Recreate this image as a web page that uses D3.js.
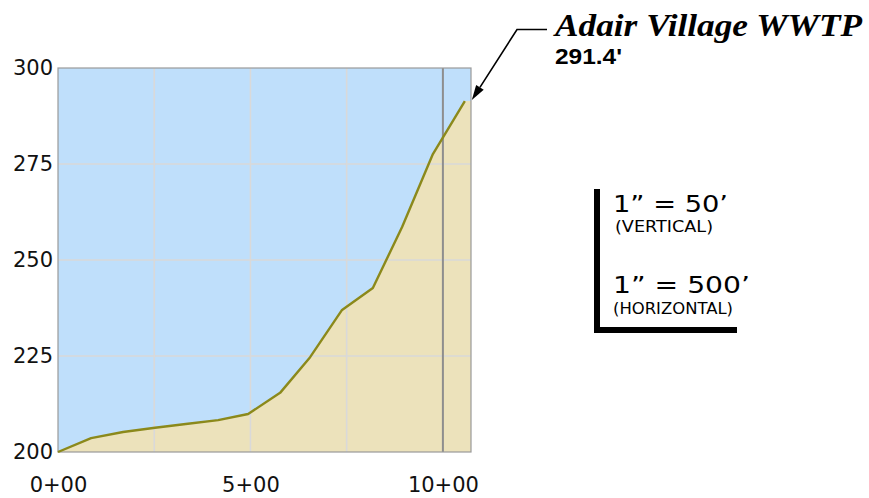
<!DOCTYPE html>
<html>
<head>
<meta charset="utf-8">
<script src="https://cdn.jsdelivr.net/npm/d3@7"></script>
<style>
  html, body { margin: 0; padding: 0; background: #ffffff; }
  svg { display: block; }
</style>
</head>
<body>
<svg id="chart" width="869" height="498"></svg>
<script>
// Ground profile along the pipeline alignment (station in feet, elevation in feet)
const stations   = [0, 86, 169, 252, 332, 416, 494, 577, 655, 738, 818, 894, 974, 1057];
const elevations = [200.0, 203.6, 205.2, 206.3, 207.3, 208.3, 209.9, 215.4, 224.7, 237.0, 242.7, 258.6, 277.6, 291.4];

const yTicks = [200, 225, 250, 275, 300];
const xGrid = [250, 500, 750];
const xMajor = [1000];
const xTickValues = [0, 500, 1000];
const xTickLabels = ["0+00", "5+00", "10+00"];

const siteName = "Adair Village WWTP";
const siteElevation = "291.4'";
const scaleLines = ["1\u201D = 50\u2019", "(VERTICAL)", "1\u201D = 500\u2019", "(HORIZONTAL)"];

const svg = d3.select("#chart");
const plot = { left: 58, top: 68, width: 413, height: 384 };

const x = d3.scaleLinear().domain([0, 1073]).range([plot.left, plot.left + plot.width]);
const y = d3.scaleLinear().domain([200, 300]).range([plot.top + plot.height, plot.top]);

const pts = stations.map((s, i) => ({ s, e: elevations[i] }));
const last = pts[pts.length - 1];

// sky background
svg.append("rect")
  .attr("x", plot.left).attr("y", plot.top)
  .attr("width", plot.width).attr("height", plot.height)
  .attr("fill", "#bfdffb");

// ground fill under the profile, carried to the right edge
const groundPts = pts.concat([{ s: x.domain()[1], e: last.e }]);
svg.append("path")
  .datum(groundPts)
  .attr("fill", "#ece2bb")
  .attr("d", d3.area().x(d => x(d.s)).y0(y(200)).y1(d => y(d.e)));

// grid
const grid = svg.append("g");
grid.selectAll("line.h").data(yTicks.filter(v => v > 200 && v < 300)).join("line")
  .attr("x1", plot.left).attr("x2", plot.left + plot.width)
  .attr("y1", d => y(d)).attr("y2", d => y(d))
  .attr("stroke", "#d9d9d9").attr("stroke-width", 1.6);
grid.selectAll("line.v").data(xGrid).join("line")
  .attr("x1", d => x(d)).attr("x2", d => x(d))
  .attr("y1", plot.top).attr("y2", plot.top + plot.height)
  .attr("stroke", "#d9d9d9").attr("stroke-width", 1.6);
grid.selectAll("line.m").data(xMajor).join("line")
  .attr("x1", d => x(d)).attr("x2", d => x(d))
  .attr("y1", plot.top).attr("y2", plot.top + plot.height)
  .attr("stroke", "#8e8e8e").attr("stroke-width", 2);

// frame
svg.append("rect")
  .attr("x", plot.left).attr("y", plot.top)
  .attr("width", plot.width).attr("height", plot.height)
  .attr("fill", "none").attr("stroke", "#9a9a9a").attr("stroke-width", 1.2);

// profile line
svg.append("path")
  .datum(pts)
  .attr("fill", "none")
  .attr("stroke", "#8b891b")
  .attr("stroke-width", 2.4)
  .attr("stroke-linejoin", "round")
  .attr("d", d3.line().x(d => x(d.s)).y(d => y(d.e)));

// y axis labels
const yAxis = d3.axisLeft(y).tickValues(yTicks).tickSize(0).tickPadding(5).tickFormat(d3.format("d"));
const ya = svg.append("g").attr("transform", `translate(${plot.left},0)`).call(yAxis);
ya.select(".domain").remove();
ya.selectAll("text")
  .attr("font-family", "DejaVu Sans, sans-serif")
  .attr("font-size", 21).attr("fill", "#111");

// x axis labels
const xAxis = d3.axisBottom(x).tickValues(xTickValues).tickSize(0).tickPadding(25)
  .tickFormat((d, i) => xTickLabels[i]);
const xa = svg.append("g").attr("transform", `translate(0,${plot.top + plot.height})`).call(xAxis);
xa.select(".domain").remove();
xa.selectAll("text")
  .attr("font-family", "DejaVu Sans, sans-serif")
  .attr("font-size", 21).attr("fill", "#111");

// callout for the plant elevation
const tipX = x(last.s) + 7, tipY = y(last.e) - 1;
const elbow = { x: 517, y: 29.5 };
const ang = Math.atan2(tipY - elbow.y, tipX - elbow.x);
const aLen = 15, aHalf = 4.5;
const baseX = tipX - aLen * Math.cos(ang), baseY = tipY - aLen * Math.sin(ang);
svg.append("path")
  .attr("d", `M547,${elbow.y}L${elbow.x},${elbow.y}L${baseX},${baseY}`)
  .attr("fill", "none").attr("stroke", "#000").attr("stroke-width", 1.6);
svg.append("path")
  .attr("d", `M${tipX},${tipY}L${baseX - aHalf * Math.sin(ang)},${baseY + aHalf * Math.cos(ang)}L${baseX + aHalf * Math.sin(ang)},${baseY - aHalf * Math.cos(ang)}Z`)
  .attr("fill", "#000");

svg.append("text")
  .attr("x", 555).attr("y", 36)
  .attr("font-family", "Liberation Serif, Times New Roman, serif")
  .attr("font-style", "italic").attr("font-weight", "bold")
  .attr("font-size", 31)
  .attr("textLength", 307).attr("lengthAdjust", "spacingAndGlyphs")
  .text(siteName);
svg.append("text")
  .attr("x", 555).attr("y", 64)
  .attr("font-family", "Liberation Sans, Arial, sans-serif")
  .attr("font-weight", "bold").attr("font-size", 22)
  .attr("textLength", 67).attr("lengthAdjust", "spacingAndGlyphs")
  .text(siteElevation);

// drawing scale note
const sc = svg.append("g");
sc.append("path")
  .attr("d", "M597,189L597,330L737,330")
  .attr("fill", "none").attr("stroke", "#000").attr("stroke-width", 6)
  .attr("stroke-linejoin", "miter");
const scaleFmt = [
  { x: 613, y: 212, size: 23, len: 115 },
  { x: 615, y: 232, size: 15, len: 98 },
  { x: 613, y: 293, size: 23, len: 137 },
  { x: 613, y: 314, size: 15, len: 120 }
];
sc.selectAll("text").data(scaleLines).join("text")
  .attr("x", (d, i) => scaleFmt[i].x)
  .attr("y", (d, i) => scaleFmt[i].y)
  .attr("font-family", "DejaVu Sans, sans-serif")
  .attr("font-size", (d, i) => scaleFmt[i].size)
  .attr("textLength", (d, i) => scaleFmt[i].len)
  .attr("lengthAdjust", "spacingAndGlyphs")
  .attr("fill", "#000")
  .text(d => d);
</script>
</body>
</html>
